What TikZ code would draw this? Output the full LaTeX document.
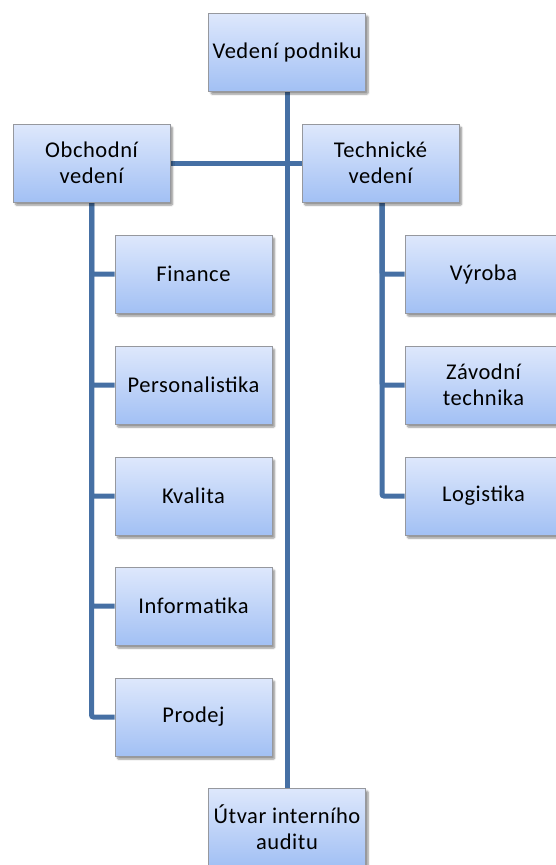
\documentclass[tikz,border=0pt]{standalone}
\usepackage{fontspec}
\setmainfont{Carlito}[LetterSpace=2.5]
\usetikzlibrary{shadows.blur,backgrounds}

\definecolor{boxtop}{RGB}{222,232,252}
\definecolor{boxbot}{RGB}{162,192,244}
\definecolor{boxrim}{RGB}{150,152,158}
\definecolor{linkblue}{RGB}{70,112,164}

\tikzset{
  unit/.style={
    draw=boxrim, line width=0.8pt,
    top color=boxtop, bottom color=boxbot,
    minimum width=157pt, minimum height=78pt,
    inner sep=2pt, align=center,
    font=\fontsize{22.5}{25.5}\selectfont,
    blur shadow={shadow xshift=2.5pt, shadow yshift=-3pt,
                 shadow blur steps=6, shadow blur extra rounding=1pt,
                 shadow opacity=45}
  },
  link/.style={draw=linkblue, line width=5pt, rounded corners=2pt}
}

\begin{document}
\begin{tikzpicture}[x=1pt, y=-1pt]
  \useasboundingbox (0,0) rectangle (555,865);

  % management levels
  \node[unit] (top)  at (287,52)    {Vedení podniku};
  \node[unit] (obch) at (91.5,163)  {Obchodní\\vedení};
  \node[unit] (tech) at (380.5,163) {Technické\\vedení};

  % commercial departments
  \node[unit] (fin)  at (193.5,274) {Finance};
  \node[unit] (pers) at (193.5,385) {Personalistika};
  \node[unit] (kval) at (193.5,496) {Kvalita};
  \node[unit] (inf)  at (193.5,606) {Informatika};
  \node[unit] (prod) at (193.5,717) {Prodej};

  % technical departments
  \node[unit] (vyr)  at (483.5,274) {Výroba};
  \node[unit] (zav)  at (483.5,385) {Závodní\\technika};
  \node[unit] (log)  at (483.5,496) {Logistika};

  % internal audit
  \node[unit] (aud)  at (287,827)   {Útvar interního\\auditu};

  \begin{scope}[on background layer]
    \draw[link] (top.south) -- (aud.north);
    \draw[link] (obch.east) -- (tech.west);
    \foreach \c in {fin,pers,kval,inf,prod}
      \draw[link] (obch.south) |- (\c.west);
    \foreach \c in {vyr,zav,log}
      \draw[link] ([xshift=1.5pt]tech.south) |- (\c.west);
  \end{scope}
\end{tikzpicture}
\end{document}
